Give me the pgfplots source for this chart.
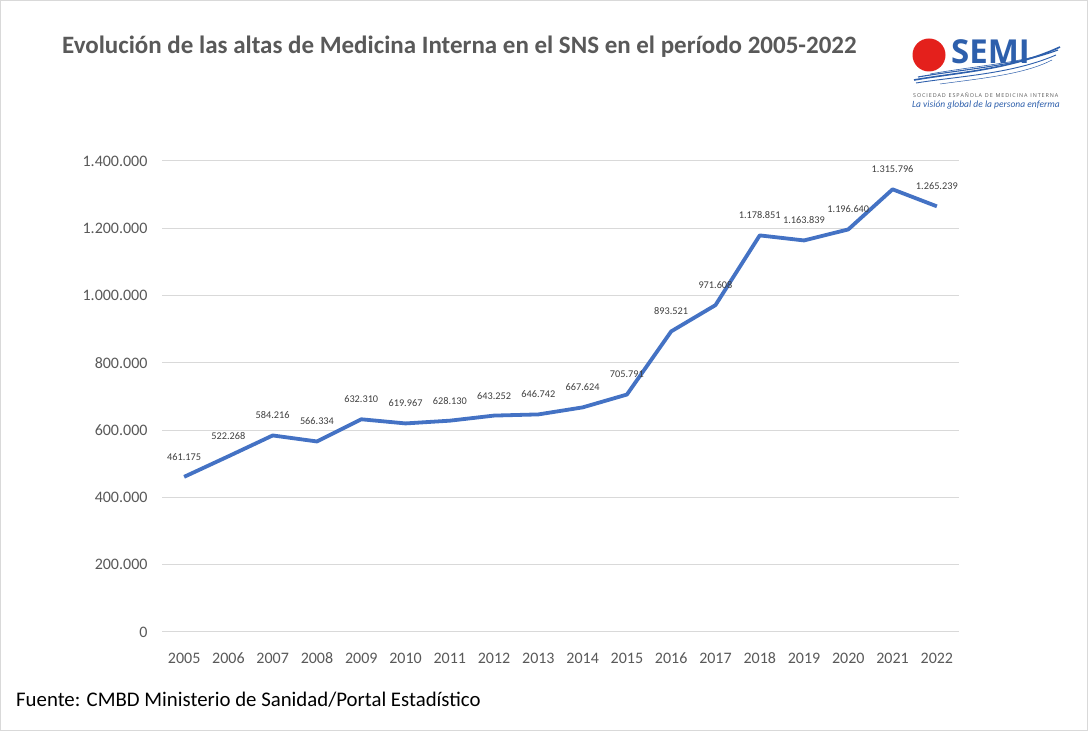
\documentclass[border=0pt]{standalone}
\usepackage{pgfplots}
\pgfplotsset{compat=1.18}
\usepackage{pgfplotstable}
\usepackage{fontspec}
\setmainfont{Carlito}
\newfontfamily\logofont{Open Sans}

\definecolor{lineblue}{HTML}{4472C4}
\definecolor{gridgray}{HTML}{D9D9D9}
\definecolor{textgray}{HTML}{595959}
\definecolor{labelgray}{HTML}{404040}
\definecolor{semiblue}{RGB}{45,95,172}
\definecolor{semired}{RGB}{228,32,28}

% Altas de Medicina Interna por año
\pgfplotstableread{
year altas lab
2005 461175 461.175
2006 522268 522.268
2007 584216 584.216
2008 566334 566.334
2009 632310 632.310
2010 619967 619.967
2011 628130 628.130
2012 643252 643.252
2013 646742 646.742
2014 667624 667.624
2015 705791 705.791
2016 893521 893.521
2017 971608 971.608
2018 1178851 1.178.851
2019 1163839 1.163.839
2020 1196640 1.196.640
2021 1315796 1.315.796
2022 1265239 1.265.239
}\altas

\begin{document}
\begin{tikzpicture}[x=1pt,y=1pt]
\useasboundingbox (0,0) rectangle (1088,731);
\fill[white] (0,0) rectangle (1088,731);
\draw[gridgray, line width=1pt] (0.5,0.5) rectangle (1087.5,730.5);

\begin{axis}[
  at={(162pt,99pt)}, anchor=south west,
  scale only axis, width=797pt, height=471pt,
  xmin=2004.5, xmax=2022.5, ymin=0, ymax=1400000,
  xtick={2005,2006,...,2022},
  ytick={0,200000,400000,600000,800000,1000000,1200000,1400000},
  scaled y ticks=false,
  axis line style={draw=none},
  major tick length=0pt,
  ymajorgrids, grid style={gridgray, line width=1pt},
  yticklabel style={text=textgray, font=\fontsize{16}{16}\selectfont, xshift=-11pt,
    /pgf/number format/.cd, fixed, precision=0, 1000 sep={.}, assume math mode=true},
  xticklabel style={text=textgray, font=\fontsize{16}{16}\selectfont,
    anchor=base, yshift=-32pt,
    /pgf/number format/.cd, 1000 sep={}, assume math mode=true},
  clip=false,
]
\addplot[lineblue, line width=3.8pt, line join=round, mark=none,
  nodes near coords, point meta=explicit symbolic,
  nodes near coords style={font=\fontsize{10.3}{10.3}\selectfont, text=labelgray,
    anchor=center, yshift=20pt}]
  table[x=year, y=altas, meta=lab] {\altas};
\end{axis}

% Título y fuente
\begin{scope}[yshift=731pt, yscale=-1]
\node[anchor=west, text=textgray, font=\fontsize{25}{25}\selectfont\bfseries, inner sep=0pt]
  at (62,47) {Evolución de las altas de Medicina Interna en el SNS en el período 2005-2022};
\node[anchor=west, text=black, font=\fontsize{20.8}{20.8}\selectfont, inner sep=0pt]
  at (16,700) {Fuente: CMBD Ministerio de Sanidad/Portal Estadístico};

% Logotipo SEMI
\fill[semired] (929,55) circle (16.5);
\node[anchor=west, text=semiblue, font=\logofont\bfseries\fontsize{33}{33}\selectfont, inner sep=0pt]
  at (951,52) {SEMI};
\draw[semiblue, line width=1.6pt] (914,80) .. controls (960,72) and (1010,70) .. (1060,47);
\draw[semiblue, line width=1.1pt] (918,77) .. controls (965,69) and (1015,66) .. (1058,50);
\draw[semiblue, line width=0.9pt] (916,83) .. controls (960,76) and (1012,74) .. (1056,55);
\draw[semiblue, line width=0.6pt] (930,74) .. controls (975,66) and (1020,63) .. (1050,52);
\draw[semiblue, line width=0.5pt] (940,84) .. controls (985,78) and (1025,74) .. (1052,60);
\node[anchor=west, text=textgray, font=\logofont\fontsize{5.4}{5.4}\selectfont, inner sep=0pt]
  at (913,95) {S\,O\,C\,I\,E\,D\,A\,D\ \ E\,S\,P\,A\,Ñ\,O\,L\,A\ \ D\,E\ \ M\,E\,D\,I\,C\,I\,N\,A\ \ I\,N\,T\,E\,R\,N\,A};
\node[anchor=west, text=semiblue, font=\fontsize{9.5}{9.5}\selectfont\itshape, inner sep=0pt]
  at (912,105) {La visión global de la persona enferma};
\end{scope}
\end{tikzpicture}
\end{document}
